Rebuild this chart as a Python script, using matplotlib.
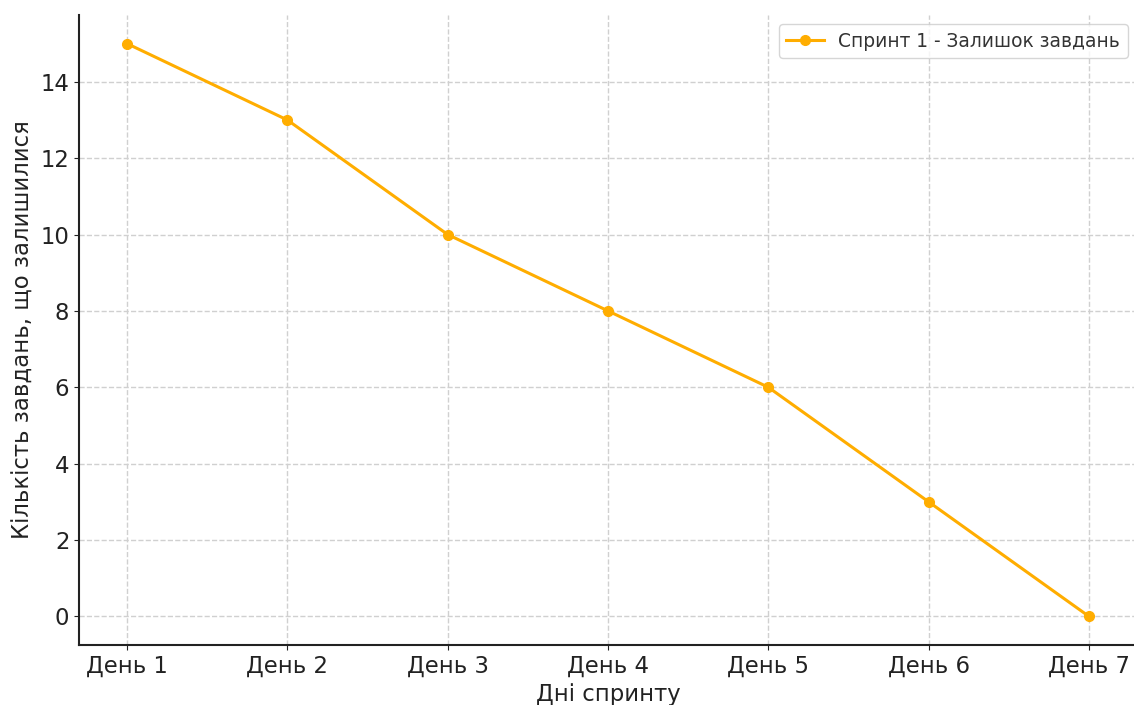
import matplotlib
matplotlib.use("Agg")
import matplotlib.pyplot as plt

days = ["День 1", "День 2", "День 3", "День 4", "День 5", "День 6", "День 7"]
remaining = [15, 13, 10, 8, 6, 3, 0]

fig = plt.figure(figsize=(11.34, 7.05), dpi=100)
ax = fig.add_axes([79/1134, 60/705, (1137-79)/1134, (690-60)/705])

ax.plot(days, remaining, marker='o', color='#FFAD00', linewidth=2.2, markersize=7,
        label='Спринт 1 - Залишок завдань')

ax.set_xlabel('Дні спринту', fontsize=16.4, color='#222222', labelpad=4)
ax.set_ylabel('Кількість завдань, що залишилися', fontsize=16.4, color='#222222')
ax.tick_params(labelsize=16.4, colors='#222222')
ax.grid(True, linestyle='--', color='#d0d0d0', linewidth=1)
for s in ['top', 'right']:
    ax.spines[s].set_visible(False)
for s in ['left', 'bottom']:
    ax.spines[s].set_linewidth(1.5)
    ax.spines[s].set_color('#222222')
ax.legend(loc='upper right', fontsize=13.4, labelcolor='#333333')

fig.savefig('out.png', dpi=100)
